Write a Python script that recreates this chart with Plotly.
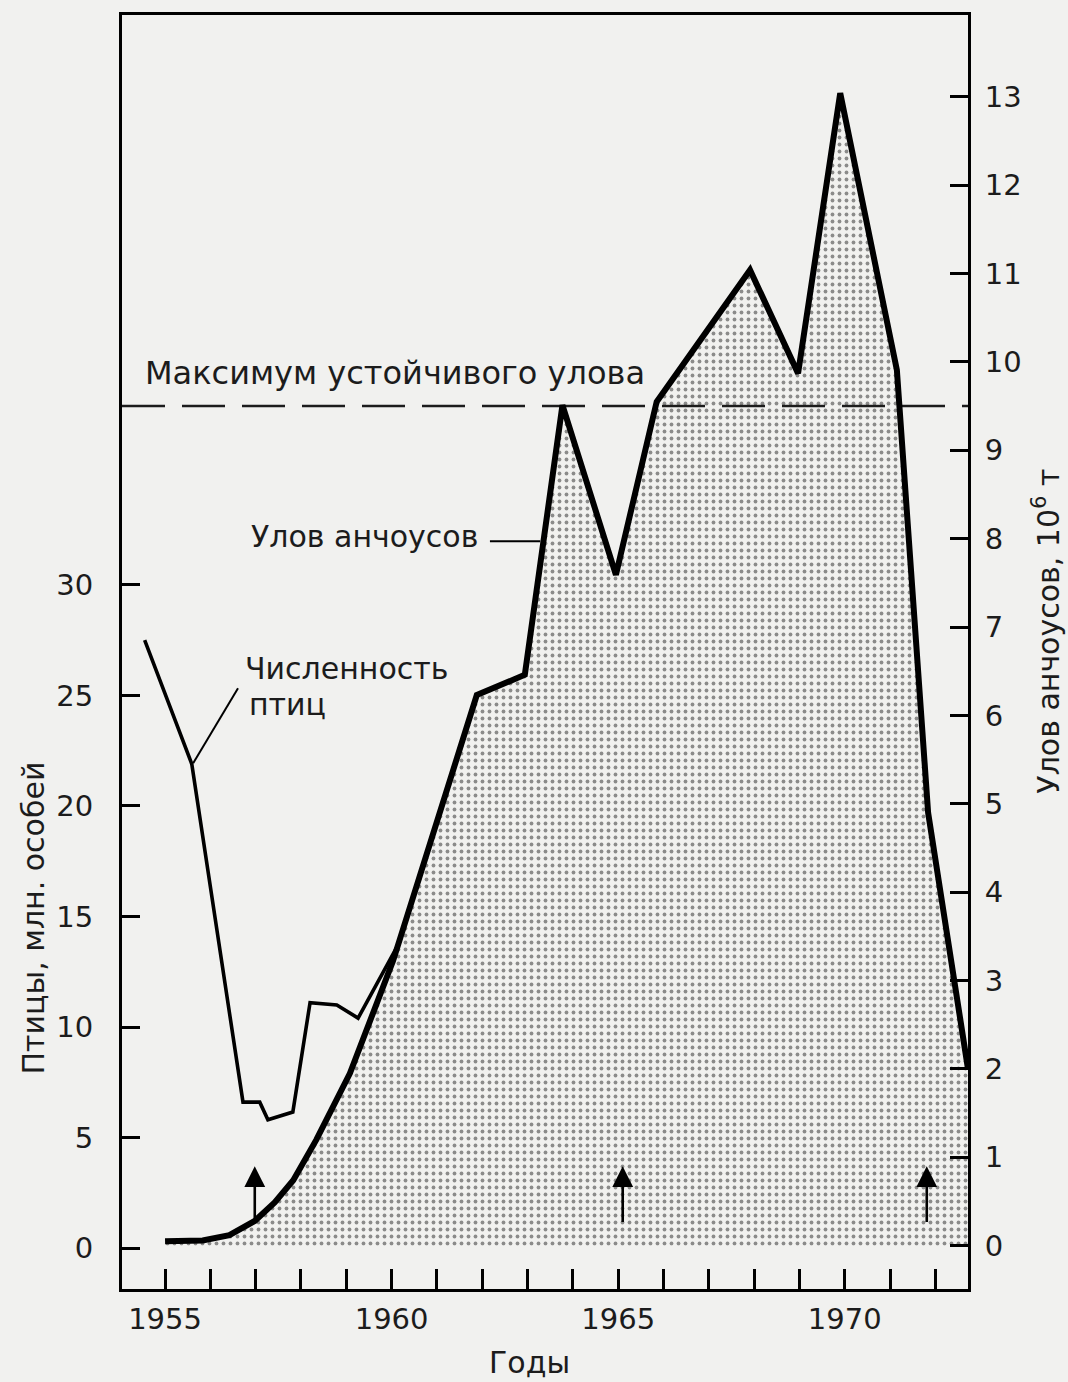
import plotly.graph_objects as go

# ---------------- data ----------------
# Anchovy catch, 10^6 t (right axis)
CATCH_YEARS = [1955.0, 1955.83, 1956.42, 1956.98, 1957.42, 1957.83, 1958.34, 1959.08,
               1960.03, 1961.88, 1962.94, 1963.77, 1964.95, 1965.85, 1967.91, 1968.97,
               1969.9, 1971.15, 1971.84, 1972.72]
CATCH_VALUES = [0.05, 0.06, 0.12, 0.28, 0.49, 0.74, 1.2, 1.95,
                3.22, 6.23, 6.46, 9.51, 7.59, 9.55, 11.04, 9.87,
                13.04, 9.91, 4.9, 2.0]

# Guano bird population, millions (left axis)
BIRD_YEARS = [1954.55, 1955.59, 1956.72, 1957.09, 1957.27, 1957.82, 1958.2, 1958.79,
              1959.26, 1961.07, 1962.17, 1963.16, 1964.22, 1965.08, 1966.03, 1967.97,
              1970.95]
BIRD_VALUES = [27.5, 21.9, 6.6, 6.6, 5.8, 6.15, 11.1, 11.0,
               10.4, 17.2, 18.1, 15.3, 17.5, 4.5, 4.9, 4.3,
               4.5]

MSY_VALUE = 9.5                      # maximum sustainable yield, 10^6 t
ARROW_YEARS = [1956.98, 1965.1, 1971.81]
ARROW_FROM, ARROW_TO = 0.25, 0.9     # 10^6 t

X_RANGE = [1954.05, 1972.72]
Y_LEFT_RANGE = [-1.855, 55.79]
Y_RIGHT_RANGE = [-0.49, 13.925]
X_LABEL_TICKS = [1955, 1960, 1965, 1970]
Y_LEFT_TICKS = [0, 5, 10, 15, 20, 25, 30]
Y_RIGHT_TICKS = list(range(0, 14))

FONT = "DejaVu Sans"
INK = "#1c1c1c"
PAPER = "#f1f1ef"

fig = go.Figure()

# stippled area under the catch curve
fig.add_trace(go.Scatter(
    x=CATCH_YEARS, y=CATCH_VALUES, yaxis="y2", mode="lines",
    line=dict(width=0, color="rgba(0,0,0,0)"),
    fill="tozeroy",
    fillpattern=dict(shape=".", size=7, solidity=0.24, fgcolor="#262626", bgcolor=PAPER),
    hoverinfo="skip", showlegend=False))

# MSY dashed line
fig.add_trace(go.Scatter(
    x=X_RANGE, y=[MSY_VALUE, MSY_VALUE], yaxis="y2", mode="lines",
    line=dict(color=INK, width=2.5, dash="43px,17px"),
    hoverinfo="skip", showlegend=False))

# catch line
fig.add_trace(go.Scatter(
    x=CATCH_YEARS, y=CATCH_VALUES, yaxis="y2", mode="lines",
    line=dict(color="black", width=6),
    showlegend=False))

# bird line
fig.add_trace(go.Scatter(
    x=BIRD_YEARS, y=BIRD_VALUES, yaxis="y", mode="lines",
    line=dict(color="black", width=3.6),
    showlegend=False))

axis_common = dict(showgrid=False, zeroline=False, showline=True, linewidth=3,
                   linecolor="black", tickcolor="black",
                   tickfont=dict(family=FONT, size=29, color=INK))

fig.update_layout(
    width=1068, height=1382, autosize=False,
    margin=dict(l=122, r=100, t=15, b=93),
    paper_bgcolor=PAPER, plot_bgcolor=PAPER,
    showlegend=False,
    xaxis=dict(range=X_RANGE, tickvals=X_LABEL_TICKS, ticks="inside", ticklen=20,
               tickwidth=2.5, mirror=True, ticklabelstandoff=2,
               minor=dict(dtick=1, tick0=1955, ticks="inside", ticklen=20,
                          tickwidth=2.5, tickcolor="black"),
               **axis_common),
    yaxis=dict(range=Y_LEFT_RANGE, tickvals=Y_LEFT_TICKS, ticks="inside", ticklen=18,
               tickwidth=2.5, ticklabelstandoff=20, **axis_common),
    yaxis2=dict(range=Y_RIGHT_RANGE, tickvals=Y_RIGHT_TICKS, ticks="inside", ticklen=18,
                tickwidth=2.5, overlaying="y", side="right", ticklabelstandoff=8,
                **axis_common),
)

txt = dict(family=FONT, size=30, color=INK)

# arrows (management events)
for yr in ARROW_YEARS:
    fig.add_annotation(x=yr, y=ARROW_TO, xref="x", yref="y2",
                       ax=yr, ay=ARROW_FROM, axref="x", ayref="y2",
                       text="", showarrow=True, arrowhead=2, arrowsize=1.6,
                       arrowwidth=2.6, arrowcolor="black")

fig.add_annotation(x=1954.51, y=9.87, xref="x", yref="y2", xanchor="left", yanchor="middle",
                   text="Максимум устойчивого улова", showarrow=False,
                   font=dict(family=FONT, size=32, color=INK))
fig.add_annotation(x=1961.96, y=8.02, xref="x", yref="y2", xanchor="right", yanchor="middle",
                   text="Улов анчоусов", showarrow=False, font=txt)
fig.add_annotation(x=1956.72, y=26.24, xref="x", yref="y", xanchor="left", yanchor="middle",
                   text="Численность", showarrow=False, font=txt)
fig.add_annotation(x=1956.81, y=24.57, xref="x", yref="y", xanchor="left", yanchor="middle",
                   text="птиц", showarrow=False, font=txt)

# leader lines for the labels
fig.add_shape(type="line", xref="x", yref="y2", x0=1962.17, x1=1963.28, y0=7.97, y1=7.97,
              line=dict(color="black", width=2))
fig.add_shape(type="line", xref="x", yref="y", x0=1956.61, y0=25.33, x1=1955.62, y1=21.93,
              line=dict(color="black", width=2))

# axis titles
fig.add_annotation(x=0.482, y=-0.0573, xref="paper", yref="paper", xanchor="center",
                   yanchor="middle", text="Годы", showarrow=False, font=txt)
fig.add_annotation(x=-0.105, y=0.291, xref="paper", yref="paper", xanchor="center",
                   yanchor="middle", text="Птицы, млн. особей", textangle=-90,
                   showarrow=False, font=txt)
fig.add_annotation(x=1.0934, y=0.516, xref="paper", yref="paper", xanchor="center",
                   yanchor="middle", text="Улов анчоусов, 10<sup>6</sup> т", textangle=-90,
                   showarrow=False, font=txt)

fig.write_html("out.html", config={"displayModeBar": False},
               post_script="document.body.style.margin='0';"
               "document.body.style.overflow='hidden';")
